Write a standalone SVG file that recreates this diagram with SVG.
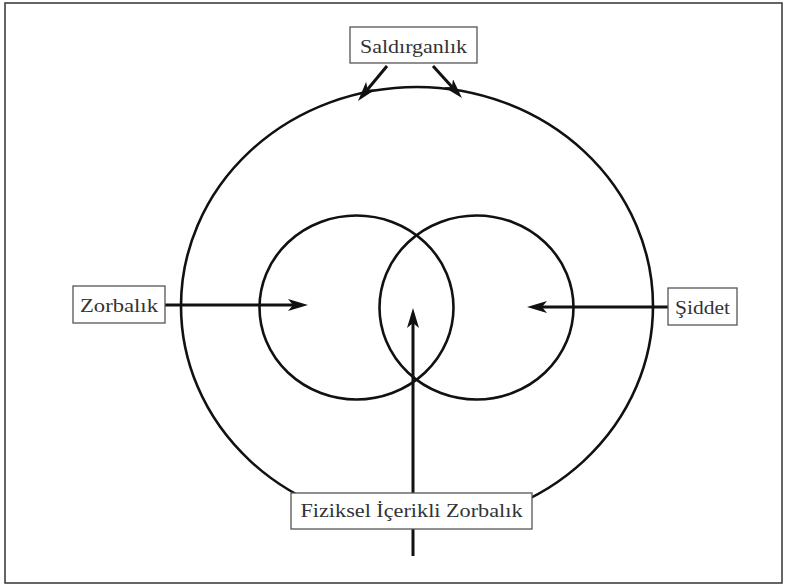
<svg xmlns="http://www.w3.org/2000/svg" width="785" height="586" viewBox="0 0 785 586">
<style>
.ring{fill:none;stroke:#111;stroke-width:2.6}
.conn{fill:none;stroke:#111;stroke-width:3}
.box{fill:#fff;stroke:#555;stroke-width:1.3}
.lbl{font-family:"Liberation Serif","Times New Roman",serif;font-size:19px;fill:#333}
</style>
<defs>
<marker id="ah" viewBox="0 0 20 12" refX="12" refY="6" markerWidth="20" markerHeight="12" markerUnits="userSpaceOnUse" orient="auto">
<path d="M0,0 L20,6 L0,12 L5,6 z" fill="#111"/>
</marker>
</defs>
<rect x="5" y="3" width="777" height="580" fill="#fff" stroke="#333" stroke-width="1.5"/>
<g id="outer-circle"><ellipse class="ring" cx="417" cy="306" rx="236" ry="219"/></g>
<g id="left-circle"><ellipse class="ring" cx="356.5" cy="307.5" rx="97" ry="92"/></g>
<g id="right-circle"><ellipse class="ring" cx="476.5" cy="307.5" rx="97" ry="92"/></g>
<g id="connectors">
<line class="conn" x1="387" y1="66" x2="363.1" y2="94.8" marker-end="url(#ah)"/>
<line class="conn" x1="433" y1="66" x2="456.6" y2="92.1" marker-end="url(#ah)"/>
<line class="conn" x1="165" y1="305" x2="300" y2="305" marker-end="url(#ah)"/>
<line class="conn" x1="668" y1="307" x2="535" y2="307" marker-end="url(#ah)"/>
<line class="conn" x1="413" y1="556" x2="413" y2="316" marker-end="url(#ah)"/>
</g>
<g id="saldirganlik">
<rect class="box" x="350" y="27" width="127" height="36"/>
<text class="lbl" x="413.5" y="53" text-anchor="middle" textLength="107" lengthAdjust="spacingAndGlyphs">Saldırganlık</text>
</g>
<g id="zorbalik">
<rect class="box" x="73" y="286" width="92" height="37"/>
<text class="lbl" x="119" y="312" text-anchor="middle" textLength="78" lengthAdjust="spacingAndGlyphs">Zorbalık</text>
</g>
<g id="siddet">
<rect class="box" x="668" y="288" width="69" height="37"/>
<text class="lbl" x="702.5" y="314" text-anchor="middle" textLength="55" lengthAdjust="spacingAndGlyphs">Şiddet</text>
</g>
<g id="fiziksel">
<rect class="box" x="291" y="493" width="241" height="36"/>
<text class="lbl" x="411.5" y="517" text-anchor="middle" textLength="222" lengthAdjust="spacingAndGlyphs">Fiziksel İçerikli Zorbalık</text>
</g>
</svg>
